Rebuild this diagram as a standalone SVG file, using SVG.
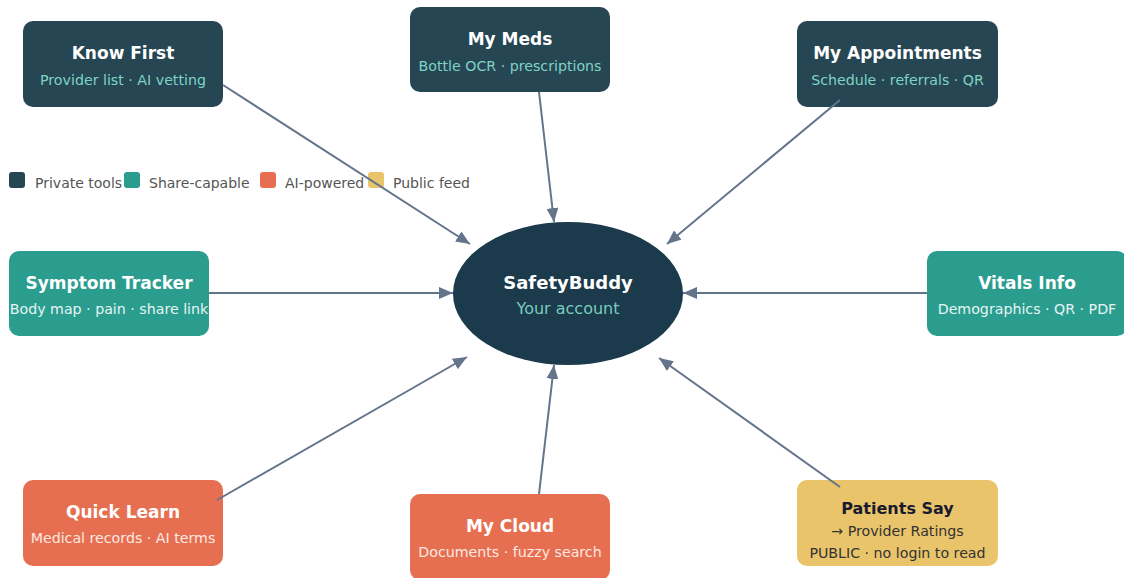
<svg xmlns="http://www.w3.org/2000/svg" width="1124" height="578" viewBox="0 0 1124 578">
<style>
.t{font-family:"DejaVu Sans",sans-serif;font-weight:bold;font-size:17px;fill:#ffffff;text-anchor:middle}
.s{font-family:"DejaVu Sans",sans-serif;font-size:14.2px;text-anchor:middle}
.dk{fill:#264653}
.tl{fill:#2a9d8f}
.or{fill:#e76f51}
.yl{fill:#e9c46a}
.sd{fill:#7fd3c6}
.st{fill:#e6f5f2}
.so{fill:#fde8e0}
.sy{fill:#333333}
.lg{font-family:"DejaVu Sans",sans-serif;font-size:14px;fill:#555555}
.e{stroke:#64748b;stroke-width:2;fill:none;marker-end:url(#ah)}
</style>
<defs>
<marker id="ah" markerUnits="userSpaceOnUse" markerWidth="15" markerHeight="12" refX="14" refY="6" orient="auto">
<path d="M0,0 L14,6 L0,12 z" fill="#64748b"/>
</marker>
</defs>
<rect width="1124" height="578" fill="#ffffff"/>
<g id="legend">
<rect x="9" y="172" width="16" height="16" rx="3" class="dk"/>
<text x="35" y="188" class="lg">Private tools</text>
<rect x="124" y="172" width="16" height="16" rx="3" class="tl"/>
<text x="149" y="188" class="lg">Share-capable</text>
<rect x="260" y="172" width="16" height="16" rx="3" class="or"/>
<text x="285" y="188" class="lg">AI-powered</text>
<rect x="368" y="172" width="16" height="16" rx="3" class="yl"/>
<text x="393" y="188" class="lg">Public feed</text>
</g>
<g id="center">
<ellipse cx="568" cy="293.5" rx="115" ry="71.5" fill="#1b3a4b"/>
<text x="568" y="289" class="t" style="font-size:18px">SafetyBuddy</text>
<text x="568" y="314" class="s" style="font-size:16px;fill:#79cbbf">Your account</text>
</g>
<g id="know-first">
<rect x="23" y="21" width="200" height="86" rx="10" class="dk"/>
<text x="123" y="59" class="t">Know First</text>
<text x="123" y="84.5" class="s sd">Provider list · AI vetting</text>
</g>
<g id="my-meds">
<rect x="410" y="7" width="200" height="85" rx="10" class="dk"/>
<text x="510" y="44.5" class="t">My Meds</text>
<text x="510" y="70.5" class="s sd">Bottle OCR · prescriptions</text>
</g>
<g id="my-appointments">
<rect x="797" y="21" width="201" height="86" rx="10" class="dk"/>
<text x="897.5" y="59" class="t">My Appointments</text>
<text x="897.5" y="84.5" class="s sd">Schedule · referrals · QR</text>
</g>
<g id="symptom-tracker">
<rect x="9" y="251" width="200" height="85" rx="10" class="tl"/>
<text x="109" y="288.5" class="t">Symptom Tracker</text>
<text x="109" y="314" class="s st">Body map · pain · share link</text>
</g>
<g id="vitals-info">
<rect x="927" y="251" width="200" height="85" rx="10" class="tl"/>
<text x="1027" y="288.5" class="t">Vitals Info</text>
<text x="1027" y="314" class="s st">Demographics · QR · PDF</text>
</g>
<g id="quick-learn">
<rect x="23" y="480" width="200" height="86" rx="10" class="or"/>
<text x="123" y="517.5" class="t">Quick Learn</text>
<text x="123" y="543" class="s so">Medical records · AI terms</text>
</g>
<g id="my-cloud">
<rect x="410" y="494" width="200" height="86" rx="10" class="or"/>
<text x="510" y="531.5" class="t">My Cloud</text>
<text x="510" y="557" class="s so">Documents · fuzzy search</text>
</g>
<g id="patients-say">
<rect x="797" y="480" width="201" height="86" rx="10" class="yl"/>
<text x="897.5" y="513.5" class="t" style="fill:#1a1a2e;font-size:16px">Patients Say</text>
<text x="897.5" y="536" class="s sy">→ Provider Ratings</text>
<text x="897.5" y="558" class="s sy">PUBLIC · no login to read</text>
</g>
<g id="connectors">
<line class="e" x1="223" y1="85" x2="470" y2="244"/>
<line class="e" x1="539" y1="92" x2="554" y2="222"/>
<line class="e" x1="840" y1="100" x2="667" y2="244"/>
<line class="e" x1="209" y1="293" x2="453" y2="293"/>
<line class="e" x1="927" y1="293" x2="683" y2="293"/>
<line class="e" x1="217" y1="500" x2="467" y2="357"/>
<line class="e" x1="539" y1="494" x2="554" y2="365"/>
<line class="e" x1="840" y1="487" x2="659" y2="358"/>
</g>
</svg>
